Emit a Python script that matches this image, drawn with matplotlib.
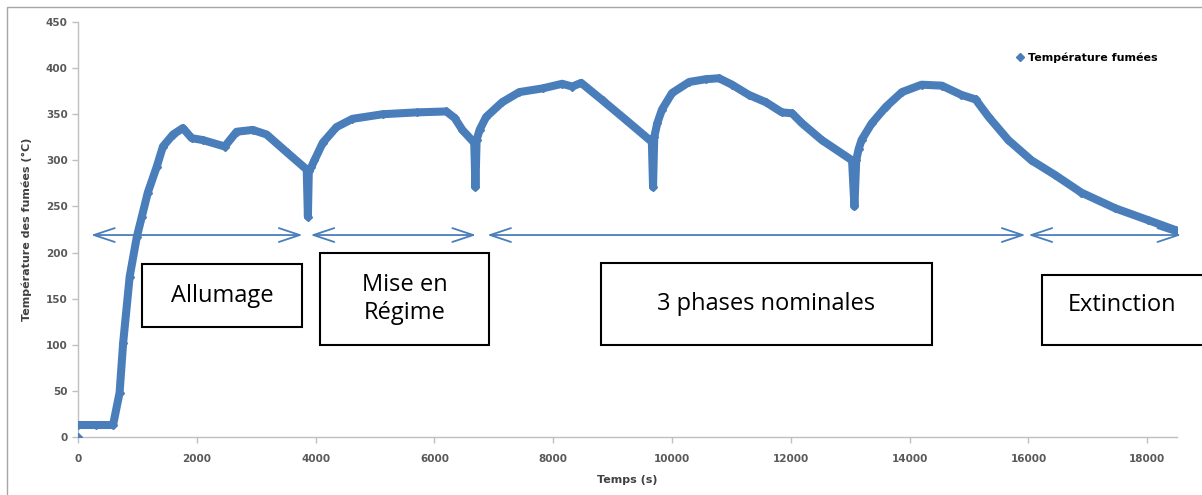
import matplotlib
matplotlib.use('Agg')
import matplotlib.pyplot as plt
from matplotlib.lines import Line2D
from matplotlib.patches import Rectangle

# temps (s) et température des fumées (°C)
temps = [0, 0, 300, 590, 700, 760, 870, 990, 1075, 1175, 1325, 1430, 1600, 1765,
         1915, 2100, 2470, 2670, 2940, 3175, 3510, 3850, 3870, 3885,
         3930, 3980, 4120, 4350, 4620, 5130, 5700, 6200, 6340, 6470, 6670, 6690, 6710,
         6760, 6870, 7140, 7430, 7820, 8150, 8320, 8470, 8830, 9220, 9660, 9680, 9700,
         9750, 9830, 10000, 10290, 10570, 10790, 11010, 11290, 11580, 11850, 12020,
         12190, 12520, 13030, 13070, 13100,
         13140, 13190, 13360, 13600, 13870, 14200, 14540, 14870, 15110, 15330, 15660,
         16050, 16450, 16890, 17460, 18020, 18490]
temperature = [0, 13, 13, 13, 48, 102, 174, 217, 239, 265, 293, 315, 328, 335,
               324, 322, 315, 331, 333, 328, 309, 290, 239, 288,
               293, 300, 319, 336, 345, 350, 352, 353, 346, 333, 319, 271, 322,
               333, 347, 363, 374, 378, 383, 380, 384, 365, 344, 320, 271, 325,
               340, 355, 373, 385, 388, 389, 382, 371, 363, 352, 351,
               340, 322, 300, 250, 300,
               312, 322, 340, 358, 374, 382, 381, 371, 366, 347, 322,
               300, 284, 265, 248, 235, 224]

# phases : (début, fin) des flèches, et libellés
phases_debut = [220, 3915, 6890, 16000]
phases_fin = [3780, 6700, 15950, 18570]
phases_noms = ['Allumage', 'Mise en\nRégime', '3 phases nominales', 'Extinction']
niveau_fleche = 219

bleu = '#4A7EBB'
gris = '#595959'

fig = plt.figure(figsize=(12.02, 4.95), dpi=100)
ax = fig.add_axes([78/1202, 1-437/495, 1099/1202, 415/495])

ax.plot(temps[1:], temperature[1:], '-', color=bleu, lw=5.8, solid_capstyle='round',
        solid_joinstyle='round', zorder=3)
ax.plot(temps, temperature, 'D', color=bleu, ms=4.5, zorder=3)

ax.set_xlim(0, 18500)
ax.set_ylim(0, 450)
ax.set_xticks(range(0, 18001, 2000))
ax.set_yticks(range(0, 451, 50))
for s in ['top', 'right']:
    ax.spines[s].set_visible(False)
for s in ['left', 'bottom']:
    ax.spines[s].set_color('#BFBFBF')
    ax.spines[s].set_linewidth(1)
ax.tick_params(axis='both', colors='#BFBFBF', labelcolor=gris, length=4, width=1,
               labelsize=7.5)
ax.tick_params(axis='x', pad=8)
for lab in ax.get_xticklabels() + ax.get_yticklabels():
    lab.set_fontweight('bold')
ax.set_xlabel('Temps (s)', fontsize=8, fontweight='bold', color='#404040', labelpad=8)
ax.set_ylabel('Température des fumées (°C)', fontsize=8, fontweight='bold',
              color='#404040', labelpad=10)

# flèches des phases
for d, f in zip(phases_debut, phases_fin):
    ax.annotate('', xy=(f, niveau_fleche), xytext=(d, niveau_fleche),
                arrowprops=dict(arrowstyle='<->,head_length=1.5,head_width=0.5',
                                color=bleu, lw=1.3, shrinkA=0, shrinkB=0),
                annotation_clip=False, zorder=4)

# cadres de texte (pixels figure)
cadres = [(142, 264, 302, 327), (320, 253, 489, 345), (601, 263, 932, 345),
          (1042, 275, 1210, 345)]
for (x0, y0, x1, y1), nom in zip(cadres, phases_noms):
    fig.patches.append(Rectangle((x0/1202, 1-y1/495), (x1-x0)/1202, (y1-y0)/495,
                                 transform=fig.transFigure, fill=True, fc='white',
                                 ec='black', lw=1.5, zorder=5))
    xc = (x0 + min(x1, 1202)) / 2 / 1202
    if nom == 'Extinction':
        yc = 1 - 305/495
    else:
        yc = 1 - (y0+y1)/2/495
    fig.text(xc, yc, nom, ha='center', va='center', fontsize=17,
             family='Open Sans', linespacing=1.25, zorder=6)

# légende
leg = fig.legend([Line2D([], [], marker='D', ls='', color=bleu, ms=4)],
                 ['Température fumées'], loc='center left',
                 bbox_to_anchor=(1012/1202, 1-58/495), frameon=False,
                 handlelength=0.6, handletextpad=0.4, borderaxespad=0,
                 prop=dict(size=8, weight='bold'))

# cadre de la figure
fig.patches.append(Rectangle((7/1202, -0.1), 1.2, 1-7/495+0.1, transform=fig.transFigure,
                             fill=False, ec='#A6A6A6', lw=1, zorder=0))

fig.savefig('out.png', dpi=100)
